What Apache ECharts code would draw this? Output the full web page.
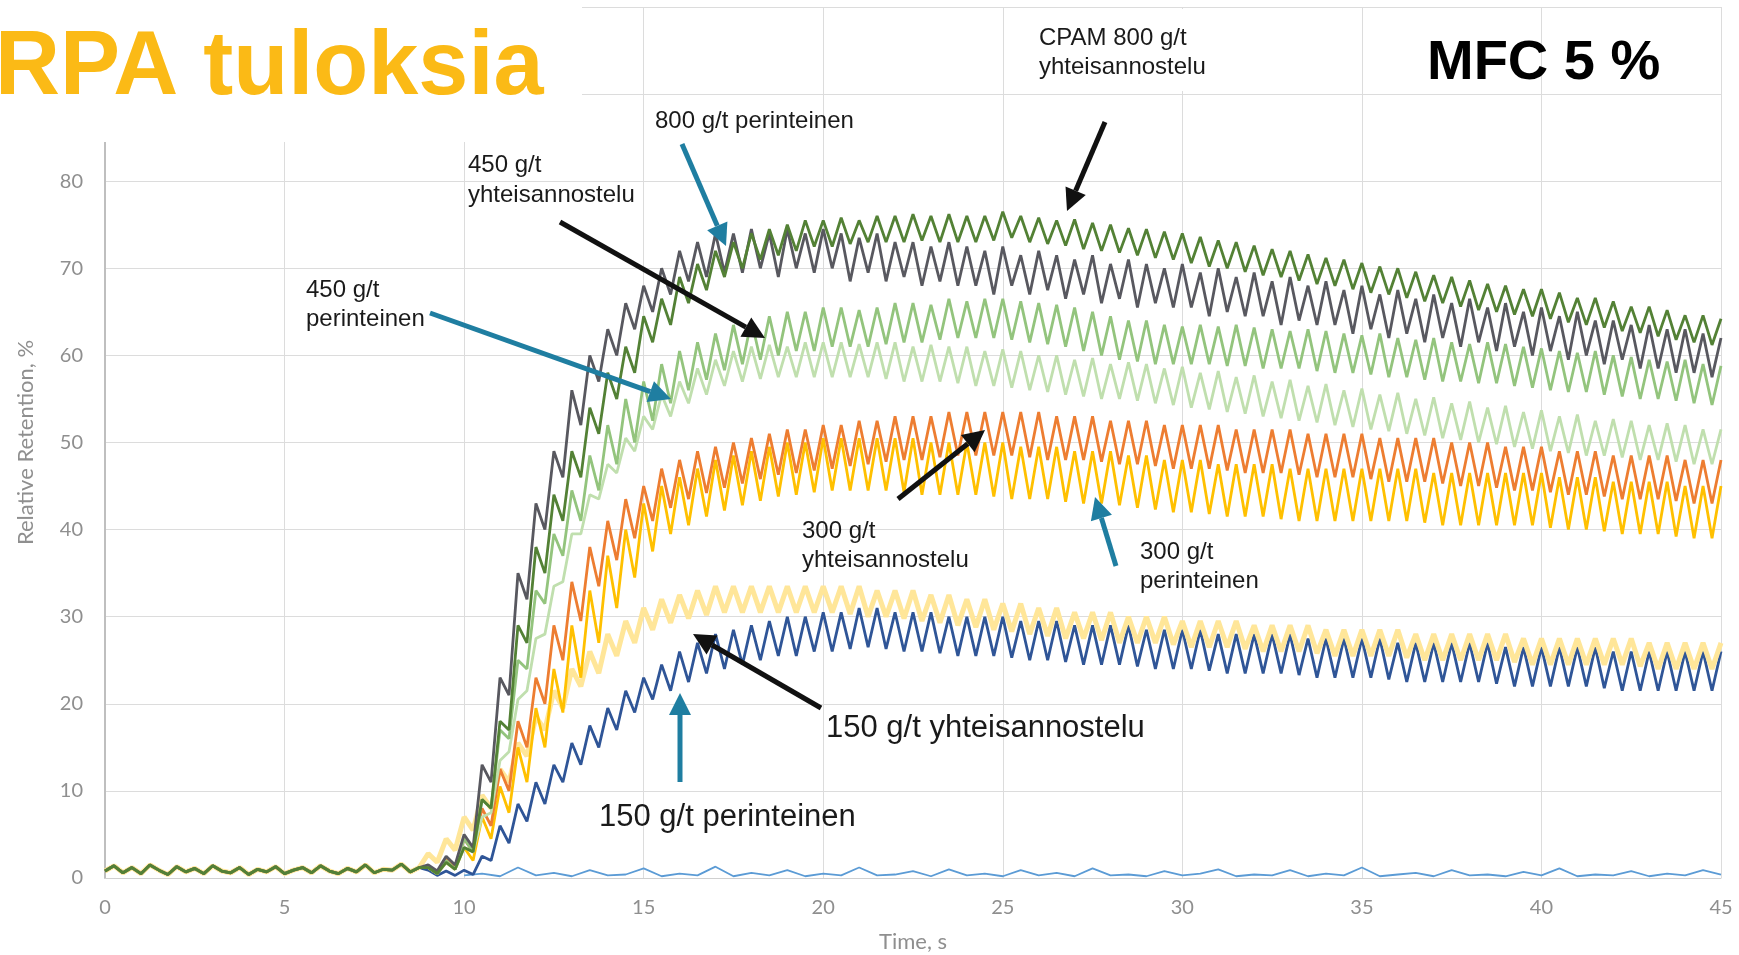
<!DOCTYPE html>
<html><head><meta charset="utf-8">
<script src="https://cdn.jsdelivr.net/npm/echarts@6.0.0/dist/echarts.min.js"></script>
<style>html,body{margin:0;padding:0;background:#fff;overflow:hidden}#c{width:1739px;height:955px}</style>
</head><body><div id="c"></div>
<script>
// ---- data ----
const xTicks = [0,5,10,15,20,25,30,35,40,45];
const yTicks = [0,10,20,30,40,50,60,70,80,90,100];
// shared flat start, t = 0 .. 8.75 step 0.25
const preValues = [0.8,1.4,0.6,1.2,0.5,1.5,0.9,0.4,1.3,0.7,1.1,0.5,1.4,0.8,0.6,1.2,0.4,1.0,0.7,1.3,0.5,0.9,1.2,0.6,1.4,0.8,0.5,1.1,0.7,1.5,0.6,1.0,0.9,1.6,0.7,1.2];
// peaks at t = 9, 9.5, ... 45 ; troughs at t = 9.25, 9.75, ... 44.75
const cpam800Peaks = [1.2,1.8,3.5,9,18,29,38,44,49,54,58,61,64.5,66.5,69,70.5,72,73,74,74.5,75,75.5,75.5,75.8,75.5,76,76,76.2,76,76.2,76,76,76.5,76,75.8,75.5,75.6,75.2,75,74.6,74.5,74.2,74,73.6,73.2,73,72.6,72.2,72,71.6,71.2,71,70.6,70.2,70,69.6,69.2,69,68.6,68.2,68,67.6,67.6,67.2,66.6,66.6,66.2,65.6,65.6,65.2,64.6,64.6,64.2];
const cpam800Troughs = [0.5,1,3,8,17,27,35,41,46,51,55,58,61.5,63.5,66,67.5,69,70,71,71.5,72,72.5,72.5,72.8,73,73,73,73.2,73,73,73,73.2,73.5,73,72.8,72.6,72.2,72,71.8,71.5,71.2,71,70.6,70.2,70,69.6,69.2,69,68.6,68.2,68,67.6,67.2,67,66.6,66.2,66,65.6,65.2,65,64.7,64.5,64.2,63.8,63.5,63.2,62.8,62.6,62.2,61.8,61.5,61.2];
const per800Peaks = [1.5,2.5,5,13,23,35,43,49,56,60,63,66,68,70,72,73,74,74,74.5,74,74.5,74,74.5,74,73.5,74,73,73,72.5,73,72.5,72,72.5,71.5,72,71.5,71,71.5,70.5,71,70.5,70,70.5,69.5,70,69,69.5,68.5,69,68,68.5,67.5,68,67,67.5,66.5,67,66,66.5,65.5,66,65,65.5,64.5,65,64,64,63.5,63.5,63,63,62.5,62];
const per800Troughs = [0.8,1.5,3.5,11,21,32,40,46,52,57,60,63,65,67,68.5,69,69.5,69.5,70,69,70,69.5,70,68.5,69.5,68.5,69,68,68.5,68,68,67,68,67,67.5,66.5,67,66,66.5,65.5,66,65.5,65.5,64.5,65,64.5,64.5,63.5,64,63.5,63.5,62.5,63,62,62.5,61.5,62,61,61.5,60.5,61,60,60.5,59.5,60,59,59.5,58.5,58.5,58,58,57.5];
const yht450Peaks = [1.2,2,4.5,9,17,25,33,39.5,44.5,48.5,52,55,57,59,60.5,61.5,62.5,63.5,64,64.5,65,65,65.5,65.5,65.2,65.5,66,66,65.8,66.5,66.2,66.5,66.5,66.2,66,65.8,65.5,65,64.5,64,64,63.5,63.3,63.5,63.3,63.5,63.2,63,62.8,63,62.8,62.5,62.3,62.5,62,61.8,62,61.5,61.3,61.5,61.3,61,60.8,60.5,60.3,60.5,60,59.8,59.5,59.3,59.5,59,58.8];
const yht450Troughs = [0.5,1,3,8,16,24,31.5,37,41,44.5,47.5,50,52.5,54.5,56,57.2,58.3,59,59.5,60,60.5,60.5,61,61,61,61.3,61.5,61.5,61.8,62,62,62,61.8,61.5,61.3,61,60.5,60,59.5,59.3,59,59,59,59,58.8,58.8,58.5,58.5,58.5,58.2,58,58,57.8,57.5,57.5,57.2,57,57,56.8,56.8,56.5,56.3,56,55.8,55.8,55.5,55.3,55,55,54.8,54.5,54.3];
const per450Peaks = [1.2,1.8,3.5,7,13.5,20.5,27.5,33.5,39.5,44,47.5,50.5,53,55.5,57,58.5,59.5,60.5,61,61.2,61,61.5,61.5,61.5,61.3,61.5,61.5,61,61.2,61,61,60.5,60.7,60.5,60,60,59.5,59.7,59,59.2,59,58.5,58.7,58,58.2,57.5,57.7,57,57.2,56.5,56.7,56,56.2,55.5,55.7,55,55.2,54.5,54.7,54,54.2,53.5,53.7,53,53.2,52.5,52.7,52.5,52,52.2,52,51.5,51.5];
const per450Troughs = [0.5,1,3,7.5,14.5,21.5,28,34,39.5,43.5,46.5,49,51.5,53,54.5,55.5,56.5,57,57.3,57.5,57.5,57.5,57.5,57.5,57.5,57.3,57,57,57,56.8,56.5,56.5,56.3,56,55.8,55.5,55.3,55,55,54.8,54.5,54.3,54,53.8,53.5,53.3,53,52.8,52.5,52.3,52,51.8,51.5,51.3,51,50.8,50.5,50.3,50,49.8,49.5,49.3,49,48.8,48.5,48.5,48.3,48,48,47.8,47.5,47.5];
const yht300Peaks = [1.2,2.2,4.5,8,12.5,18,23,29,34,38,41,43.5,45,47,48,49,49.5,50,50.5,51,51.5,51.5,52,52,52.5,52.5,53,53,53,53.5,53.5,53.5,53.5,53.5,53.5,53,53,53,52.5,52.5,52.5,52,52,52,52,51.5,51.5,51.5,51.5,51,51,51,51,50.5,50.5,50.5,50.5,50,50,50,49.5,49.5,49.5,49,49,49,48.5,48.5,48.5,48.5,48,48,48];
const yht300Troughs = [0.5,1.2,3,6,10,15,20,25,29.5,33.5,36.5,39,41,42.5,43.5,44.2,44.8,45.3,45.8,46.3,46.5,46.8,47,47.3,47.5,47.8,48,48,48.3,48.5,48.5,48.5,48.5,48.3,48,48,48,47.8,47.5,47.5,47.3,47,47,47,46.8,46.5,46.5,46.5,46.3,46,46,46,45.8,45.5,45.5,45.5,45.3,45,45,44.8,44.5,44.5,44.3,44,44,43.8,43.5,43.5,43.5,43.3,43,43];
const per300Peaks = [1.2,1.8,3.5,7,10.5,15,19.5,24,29,33,37,40,43,45,46,47,48,48.5,49,49.5,50,50,50.5,50.5,50.5,50.5,50.5,50.5,50,50,50,50,50,49.5,49.5,49.5,49,49,49,48.5,48.5,48,48,48,47.5,47.5,47.5,47.5,47,47,47,47,47,47,47,47,46.5,46.5,46.5,46.5,46.5,46.5,46.5,46,46,46,45.5,45.5,45.5,45.5,45,45,45];
const per300Troughs = [0.5,1,2,4.5,7.5,11,15,19,23,27,31,34.5,37.5,39.5,40.5,41.5,42.2,42.8,43.3,43.8,44,44.3,44.5,44.5,44.5,44.5,44.3,44,44,44,44,43.8,43.5,43.5,43.5,43.2,43,43,42.8,42.5,42.3,42,42,41.8,41.5,41.5,41.5,41.2,41,41,41,41,41,41,41,40.8,40.5,40.5,40.5,40.5,40.5,40.5,40.2,40,40,39.8,39.5,39.5,39.5,39.2,39,39];
const yht150Peaks = [2.8,4.5,7,9.5,12.5,15.5,18.5,21.5,24,26,28,29.5,31,32,32.5,33,33.5,33.5,33.5,33.5,33.5,33.5,33.5,33.5,33.5,33,33,33,32.5,32.5,32,32,31.5,31.5,31,31,30.5,30.5,30.5,30,30,30,29.5,29.5,29.5,29.5,29,29,29,29,28.5,28.5,28.5,28.5,28.5,28,28,28,28,28,28,27.5,27.5,27.5,27.5,27.5,27.5,27.5,27,27,27,27,27];
const yht150Troughs = [1.8,3.2,5.5,8,11,14,17,19.5,22,23.5,25.5,27,28.5,29.3,29.8,30.2,30.5,30.5,30.5,30.5,30.5,30.5,30.5,30.3,30,30,29.8,29.5,29.3,29,28.8,28.5,28.3,28,27.8,27.5,27.5,27.3,27,27,27,26.8,26.5,26.5,26.5,26.3,26,26,26,25.8,25.5,25.5,25.5,25.5,25.3,25,25,25,25,25,24.8,24.5,24.5,24.5,24.5,24.5,24.5,24.3,24,24,24,24];
const per150Peaks = [0.9,0.8,0.9,2.5,6,8.5,11,13,15.5,17.5,19.5,21.5,23,24.5,26,27,28,28.5,29,29.5,30,30,30.5,30.5,31,31,30.5,30.5,30.5,30,30,30,30,29.5,29.5,29.5,29,29,29,29,28.5,28.5,28.5,28.5,28,28,28,28,28,27.5,27.5,27.5,27.5,27.5,27,27,27,27,27,27,26.5,26.5,26.5,26.5,26.5,26.5,26,26,26,26,26,26,26];
const per150Troughs = [0.3,0.3,0.4,2,4,6.5,8.5,11,13,15,17,19,20.5,21.5,22.5,23.5,24,24.5,25,25.5,25.5,26,26,26.3,26.5,26.3,26,26,25.8,25.5,25.5,25.5,25.3,25,25,24.8,24.5,24.5,24.5,24.3,24,24,24,23.8,23.5,23.5,23.5,23.5,23.3,23,23,23,23,22.8,22.5,22.5,22.5,22.5,22.5,22.3,22,22,22,22,22,21.8,21.5,21.5,21.5,21.5,21.5,21.5];
// baseline trace t = 10 .. 45 step 0.5
const baseValues = [0.3,0.5,0.2,1.2,0.3,0.6,0.2,0.9,0.3,0.4,1.1,0.2,0.5,0.3,1.3,0.2,0.6,0.3,0.9,0.2,0.5,0.3,1.2,0.3,0.4,0.8,0.2,1.0,0.3,0.5,0.2,0.9,0.3,0.6,0.2,1.1,0.3,0.4,0.2,0.8,0.3,0.5,1.0,0.2,0.4,0.3,0.9,0.2,0.5,0.3,1.2,0.2,0.4,0.6,0.2,0.9,0.3,0.4,0.2,0.7,0.3,1.1,0.2,0.4,0.3,0.8,0.2,0.5,0.3,0.9,0.4];

// ---- build series data ----
function build(peaks, troughs){
  const d = [];
  preValues.forEach((v,i)=>d.push([i*0.25, v]));
  for (let i=0;i<peaks.length;i++){
    d.push([9+i*0.5, peaks[i]]);
    if (i<troughs.length) d.push([9.25+i*0.5, troughs[i]]);
  }
  return d;
}
const baseData = baseValues.map((v,i)=>[10+i*0.5, v]);

const seriesDefs = [
  {name:'base', color:'#5B9BD5', w:1.8, data:baseData},
  {name:'150 g/t perinteinen', color:'#2F5597', w:2.8, data:build(per150Peaks, per150Troughs)},
  {name:'150 g/t yhteisannostelu', color:'#FFE699', w:5, data:build(yht150Peaks, yht150Troughs)},
  {name:'300 g/t perinteinen', color:'#FFC000', w:2.8, data:build(per300Peaks, per300Troughs)},
  {name:'300 g/t yhteisannostelu', color:'#ED7D31', w:2.8, data:build(yht300Peaks, yht300Troughs)},
  {name:'450 g/t perinteinen', color:'#C0DFAE', w:2.8, data:build(per450Peaks, per450Troughs)},
  {name:'450 g/t yhteisannostelu', color:'#93C47D', w:2.8, data:build(yht450Peaks, yht450Troughs)},
  {name:'800 g/t perinteinen', color:'#58585F', w:2.8, data:build(per800Peaks, per800Troughs)},
  {name:'CPAM 800 g/t yhteisannostelu', color:'#538135', w:2.8, data:build(cpam800Peaks, cpam800Troughs)}
];

const chart = echarts.init(document.getElementById('c'), null, {renderer:'canvas'});
const labelFont = {color:'#8f8f8f', fontFamily:'Lato', fontSize:20};

function arrow(x1,y1,x2,y2,color,w){
  const a=Math.atan2(y2-y1,x2-x1), L=22, W=11;
  const bx=x2-L*Math.cos(a), by=y2-L*Math.sin(a);
  const px=-Math.sin(a)*W, py=Math.cos(a)*W;
  return [
    {type:'line', z:60, shape:{x1:x1,y1:y1,x2:bx,y2:by}, style:{stroke:color,lineWidth:w}},
    {type:'polygon', z:60, shape:{points:[[x2,y2],[bx+px,by+py],[bx-px,by-py]]}, style:{fill:color}}
  ];
}
function label(x,y,text,size){
  return {type:'text', z:70, x:x, y:y, style:{text:text, font:(size||24)+'px "Liberation Sans", Arial, sans-serif', fill:'#1a1a1a', textVerticalAlign:'middle'}};
}
const TEAL='#1F7EA1', BLACK='#111111';
const graphics = [
  {type:'rect', z:50, shape:{x:0,y:0,width:582,height:142}, style:{fill:'#ffffff'}},
  {type:'rect', z:50, shape:{x:1030,y:9,width:186,height:82}, style:{fill:'#ffffff'}},
  {type:'text', z:70, x:-5, y:114, style:{text:'RPA tuloksia', font:'bold 90px "Liberation Sans", Arial, sans-serif', fill:'#FBBA16', textVerticalAlign:'bottom'}},
  {type:'text', z:70, x:1427, y:92, style:{text:'MFC 5 %', font:'bold 56px "Liberation Sans", Arial, sans-serif', fill:'#000000', textVerticalAlign:'bottom'}},
  label(1039,38,'CPAM 800 g/t'), label(1039,67,'yhteisannostelu'),
  label(655,121,'800 g/t perinteinen'),
  label(468,165,'450 g/t'), label(468,195,'yhteisannostelu'),
  label(306,290,'450 g/t'), label(306,319,'perinteinen'),
  label(802,531,'300 g/t'), label(802,560,'yhteisannostelu'),
  label(1140,552,'300 g/t'), label(1140,581,'perinteinen'),
  label(826,728,'150 g/t yhteisannostelu',31),
  label(599,817,'150 g/t perinteinen',31)
].concat(
  arrow(1105,122,1067,211,BLACK,5),
  arrow(682,144,726,246,TEAL,5),
  arrow(560,222,765,338,BLACK,5),
  arrow(430,313,671,399,TEAL,5),
  arrow(898,499,985,430,BLACK,5),
  arrow(1116,566,1095,497,TEAL,5),
  arrow(821,708,693,634,BLACK,5),
  arrow(680,782,680,693,TEAL,5)
);

chart.setOption({
  animation:false,
  backgroundColor:'#ffffff',
  grid:{left:105, right:18, top:7, bottom:77, containLabel:false, outerBoundsMode:'none'},
  xAxis:{type:'value', min:xTicks[0], max:xTicks[xTicks.length-1], interval:5,
    name:'Time, s', nameLocation:'middle', nameGap:53,
    nameTextStyle:{color:'#8f8f8f', fontFamily:'Lato', fontSize:22},
    axisLine:{show:true, lineStyle:{color:'#d0d0d0', width:1}}, axisTick:{show:false},
    axisLabel:Object.assign({margin:20}, labelFont),
    splitLine:{show:true, lineStyle:{color:'#dcdcdc', width:1}}},
  yAxis:{type:'value', min:yTicks[0], max:yTicks[yTicks.length-1], interval:10,
    name:'Relative Retention, %', nameLocation:'middle', nameGap:68,
    nameTextStyle:{color:'#8f8f8f', fontFamily:'Lato', fontSize:22},
    axisLine:{show:true, lineStyle:{color:'#bfbfbf', width:2}}, axisTick:{show:false},
    axisLabel:Object.assign({margin:22}, labelFont),
    splitLine:{show:true, lineStyle:{color:'#dcdcdc', width:1}}},
  series: seriesDefs.map(s=>({type:'line', name:s.name, data:s.data, showSymbol:false, symbol:'none',
    lineStyle:{color:s.color, width:s.w}, itemStyle:{color:s.color}, smooth:false})),
  graphic: graphics
});
</script></body></html>
